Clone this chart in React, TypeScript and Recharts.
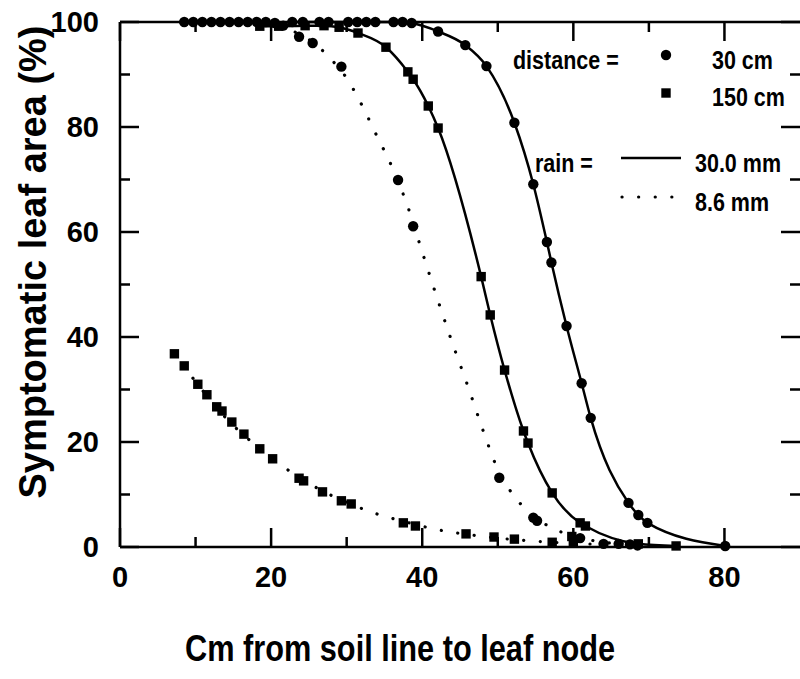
import React from "react";
import { ComposedChart, Line, Scatter, XAxis, YAxis, ReferenceLine } from "recharts";

// 30.0 mm rain, 30 cm distance (circles, solid)
const wetNearX = [22.8, 24.2, 26.4, 27.6, 30.2, 31.4, 32.6, 33.8, 36.2, 37.4, 38.6, 42.1, 45.7, 48.5, 52.2, 54.7, 56.5, 57.1, 59.1, 61.1, 62.3, 67.3, 68.6, 69.8, 80.1];
const wetNearY = [100, 100, 100, 100, 100, 100, 100, 100, 100, 100, 99.8, 98.2, 95.6, 91.6, 80.8, 69.1, 58.1, 54.2, 42.1, 31.2, 24.6, 8.4, 6.1, 4.6, 0.2];

// 30.0 mm rain, 150 cm distance (squares, solid)
const wetFarX = [18.5, 21, 24.5, 27, 29, 31.5, 35.2, 38.1, 38.8, 40.8, 42.1, 47.8, 49.0, 50.9, 53.4, 54.0, 57.2, 60.9, 61.6, 68.6, 73.6];
const wetFarY = [99.2, 99.2, 99.3, 99.3, 99.0, 97.9, 95.2, 90.5, 89.1, 84.0, 79.8, 51.5, 44.2, 33.7, 22.1, 19.8, 10.3, 4.6, 4.0, 0.6, 0.2];

// 8.6 mm rain, 30 cm distance (circles, dotted fit)
const dryNearX = [8.5, 9.7, 10.9, 12.1, 13.3, 14.5, 15.7, 16.9, 18.1, 19.3, 20.5, 21.6, 23.7, 25.5, 29.3, 36.8, 38.8, 50.2, 54.7, 55.2, 60.9, 64.0, 66.0, 67.5, 68.5];
const dryNearY = [100, 100, 100, 100, 100, 100, 100, 100, 100, 100, 99.8, 99.3, 97.2, 96.0, 91.5, 69.9, 61.1, 13.2, 5.6, 5.0, 1.7, 0.6, 0.6, 0.5, 0.3];
const dryNearFitX = [8, 20, 23, 26, 28, 30, 32, 34, 36, 38, 40, 42, 44, 46, 48, 50, 52, 54, 56, 58, 62, 66];
const dryNearFitY = [100, 99.6, 98.2, 95.6, 92.8, 89.3, 84.2, 78.3, 72.4, 65.2, 56.2, 47.3, 38.8, 30.8, 22.4, 14.8, 10.0, 6.8, 4.6, 3.1, 1.4, 0.6];

// 8.6 mm rain, 150 cm distance (squares, dotted fit)
const dryFarX = [7.2, 8.5, 10.3, 11.5, 12.8, 13.5, 14.8, 16.4, 18.5, 20.2, 23.7, 24.3, 26.8, 29.3, 30.6, 37.5, 39.1, 45.8, 49.5, 52.2, 57.2, 59.8, 60.0];
const dryFarY = [36.8, 34.5, 31.0, 29.0, 26.7, 25.9, 23.8, 21.5, 18.7, 16.8, 13.1, 12.6, 10.5, 8.8, 8.2, 4.6, 4.0, 2.5, 1.9, 1.5, 0.9, 2.0, 0.9];
const dryFarFitX = [7, 10, 14, 18, 22, 26, 30, 34, 38, 42, 46, 50, 55, 60, 66];
const dryFarFitY = [37.2, 31.5, 24.6, 19.3, 14.9, 11.3, 8.5, 6.3, 4.7, 3.3, 2.4, 1.7, 1.1, 0.7, 0.4];

const xTicks = [0, 10, 20, 30, 40, 50, 60, 70, 80];
const yTicks = [0, 10, 20, 30, 40, 50, 60, 70, 80, 90, 100];
const xLabels = [0, 20, 40, 60, 80];
const yLabels = [0, 20, 40, 60, 80, 100];

const pts = (xs: number[], ys: number[]) => xs.map((x, i) => ({ x, y: ys[i] }));

const FONT = "'Liberation Sans', Arial, sans-serif";
const SW = 2.5;
// tick lengths (19px major, 10px minor) in axis units; the plot is 680px x 525px
const tickX = (v: number) => ((v % 20 === 0 ? 19 : 10) * 90) / 680;
const tickY = (v: number) => ((v % 20 === 0 ? 19 : 10) * 100) / 525;

const labelStyle = { fill: "#000", fontSize: 29, fontWeight: "bold", fontFamily: FONT };
const tickStyle = { stroke: "#000", strokeWidth: SW };

const Dot = (p: any) => <circle cx={p.cx} cy={p.cy} r={5.2} fill="#000" />;
const Sq = (p: any) => <rect x={p.cx - 4.7} y={p.cy - 4.7} width={9.4} height={9.4} fill="#000" />;

const dotted = { stroke: "#000", strokeWidth: 3.2, strokeDasharray: "0.1 16.5", strokeLinecap: "round" as const };

export default function App() {
  return (
    <div style={{ position: "relative", width: 800, height: 679, background: "#fff" }}>
      <style>{`body{margin:0;background:#fff;}`}</style>
      <svg width={800} height={679} style={{ position: "absolute", left: 0, top: 0 }}>
        <g fontFamily={FONT} fontWeight="bold" fontSize={25} fill="#000">
          <text transform="translate(513,69) scale(0.86,1)">distance =</text>
          <circle cx={666} cy={55} r={5.2} />
          <text transform="translate(712,69) scale(0.86,1)">30 cm</text>
          <rect x={661.3} y={88.3} width={9.4} height={9.4} />
          <text transform="translate(712,106) scale(0.86,1)">150 cm</text>
          <text transform="translate(535,172) scale(0.86,1)">rain =</text>
          <line x1={621} x2={681} y1={158} y2={158} stroke="#000" strokeWidth={SW} />
          <text transform="translate(695,172) scale(0.86,1)">30.0 mm</text>
          <line x1={622} x2={672} y1={197} y2={197} {...dotted} />
          <text transform="translate(695,211) scale(0.86,1)">8.6 mm</text>
        </g>
        <text x={400} y={661} textAnchor="middle" textLength={430} lengthAdjust="spacingAndGlyphs" fontFamily={FONT} fontWeight="bold" fontSize={37} fill="#000">
          Cm from soil line to leaf node
        </text>
        <text transform="translate(46,262) rotate(-90)" textAnchor="middle" fontFamily={FONT} fontWeight="bold" fontSize={38} fill="#000">
          Symptomatic leaf area (%)
        </text>
      </svg>

      <ComposedChart width={800} height={679} margin={{ top: 22, right: 0, bottom: 0, left: 0 }}>
        <XAxis
          dataKey="x"
          type="number"
          domain={[0, 90]}
          ticks={xLabels}
          interval={0}
          height={132}
          tickSize={6}
          tickMargin={13}
          tickLine={false}
          axisLine={{ stroke: "#000", strokeWidth: SW }}
          tick={labelStyle}
        />
        <YAxis
          dataKey="y"
          type="number"
          domain={[0, 100]}
          ticks={yLabels}
          interval={0}
          width={120}
          tickSize={6}
          tickMargin={15}
          tickLine={false}
          axisLine={{ stroke: "#000", strokeWidth: SW }}
          tick={labelStyle}
        />
        <ReferenceLine y={100} {...tickStyle} />

        <Line data={pts(dryNearFitX, dryNearFitY)} dataKey="y" type="monotone" dot={false} activeDot={false} {...dotted} isAnimationActive={false} />
        <Line data={pts(dryFarFitX, dryFarFitY)} dataKey="y" type="monotone" dot={false} activeDot={false} {...dotted} isAnimationActive={false} />
        <Line data={pts(wetNearX, wetNearY)} dataKey="y" type="monotone" dot={false} activeDot={false} stroke="#000" strokeWidth={SW} isAnimationActive={false} />
        <Line data={pts(wetFarX, wetFarY)} dataKey="y" type="monotone" dot={false} activeDot={false} stroke="#000" strokeWidth={SW} isAnimationActive={false} />

        {/* inward tick marks on all four sides */}
        {xTicks.map((v) => (
          <ReferenceLine key={`b${v}`} segment={[{ x: v, y: 0 }, { x: v, y: tickY(v) }]} ifOverflow="visible" {...tickStyle} />
        ))}
        {xTicks.map((v) => (
          <ReferenceLine key={`t${v}`} segment={[{ x: v, y: 100 }, { x: v, y: 100 - tickY(v) }]} ifOverflow="visible" {...tickStyle} />
        ))}
        {yTicks.map((v) => (
          <ReferenceLine key={`l${v}`} segment={[{ x: 0, y: v }, { x: tickX(v), y: v }]} ifOverflow="visible" {...tickStyle} />
        ))}
        {yTicks.map((v) => (
          <ReferenceLine key={`r${v}`} segment={[{ x: 90, y: v }, { x: 90 - tickX(v), y: v }]} ifOverflow="visible" {...tickStyle} />
        ))}

        <Scatter data={pts(wetNearX, wetNearY)} dataKey="y" shape={Dot} isAnimationActive={false} />
        <Scatter data={pts(dryNearX, dryNearY)} dataKey="y" shape={Dot} isAnimationActive={false} />
        <Scatter data={pts(wetFarX, wetFarY)} dataKey="y" shape={Sq} isAnimationActive={false} />
        <Scatter data={pts(dryFarX, dryFarY)} dataKey="y" shape={Sq} isAnimationActive={false} />
      </ComposedChart>
    </div>
  );
}
